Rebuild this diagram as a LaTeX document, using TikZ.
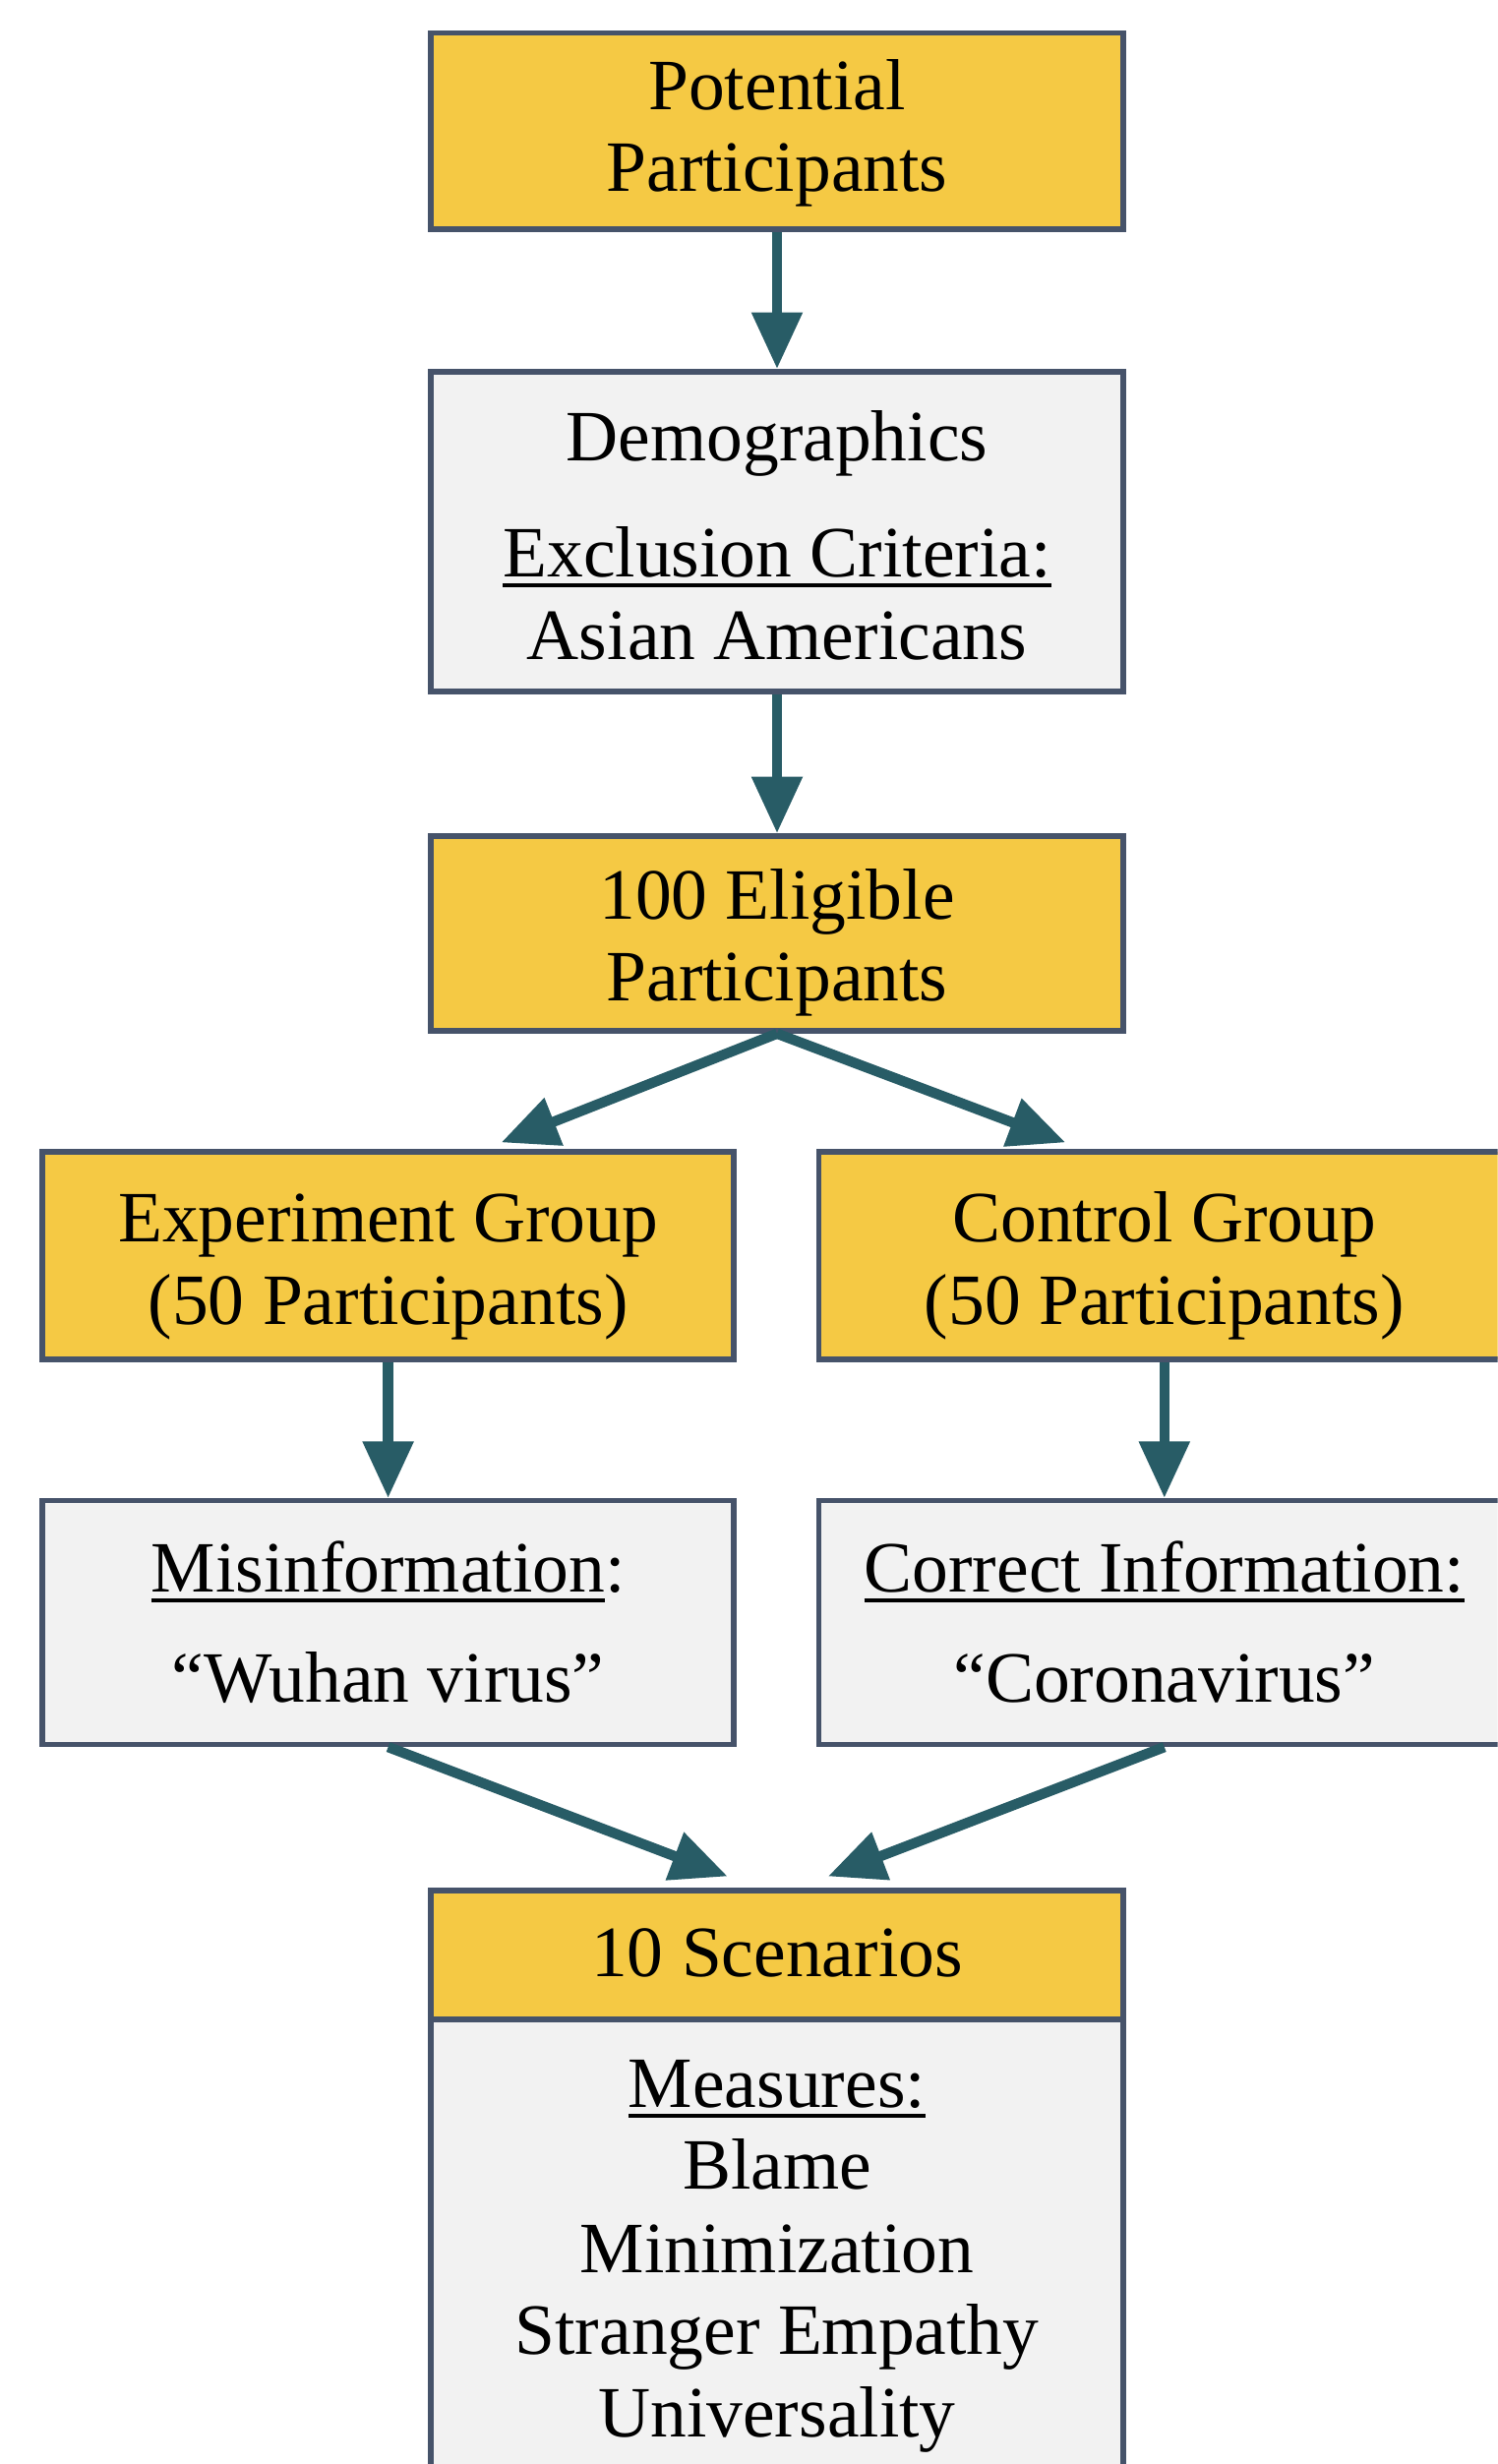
\documentclass[tikz,border=0pt]{standalone}
\usepackage{fontspec}
\setmainfont{Liberation Serif}
\usetikzlibrary{arrows.meta}
\definecolor{yel}{HTML}{F5C944}
\definecolor{gry}{HTML}{F2F2F2}
\definecolor{bord}{HTML}{46536A}
\definecolor{tealarr}{HTML}{285C66}
\newcommand\myul[1]{\setbox0\hbox{#1}\rlap{\rule[-6.5pt]{\wd0}{2.5pt}}\box0}
\begin{document}
\begin{tikzpicture}[x=1pt,y=-1pt,
  boxbase/.style={rectangle, draw=bord, line width=3.5pt, inner sep=0pt},
  ybox/.style={boxbase, fill=yel},
  gbox/.style={boxbase, fill=gry},
  txt/.style={anchor=base, inner sep=0pt, font=\fontsize{46}{53}\selectfont},
  arr/.style={draw=tealarr, line width=6.5pt, -{Triangle[length=36pt,width=31pt]}}]
\useasboundingbox (0,0) rectangle (953,1568);
\clip (0,0) rectangle (953,1568);
% boxes
\node[ybox, minimum width=441pt, minimum height=125pt] (p) at (494.5,83.5) {};
\node[gbox, minimum width=441pt, minimum height=203.5pt] (d) at (494.5,338.25) {};
\node[ybox, minimum width=441pt, minimum height=124pt] (e) at (494.5,594) {};
\node[ybox, minimum width=440pt, minimum height=132pt] (exg) at (247,799) {};
\node[ybox, minimum width=440pt, minimum height=132pt] (ctl) at (741,799) {};
\node[gbox, minimum width=440pt, minimum height=155pt] (mis) at (247,1032.5) {};
\node[gbox, minimum width=440pt, minimum height=155pt] (cor) at (741,1032.5) {};
\node[gbox, minimum width=441pt, minimum height=415pt] (ms) at (494.5,1492.5) {};
\node[ybox, minimum width=441pt, minimum height=82pt] (sc) at (494.5,1244) {};
% arrow tips
\coordinate (tl) at (319,727);
\coordinate (tr) at (678,727);
\coordinate (bl) at (463,1194);
\coordinate (br) at (527,1194);
% connectors
\draw[arr] (p.south) -- (d.north);
\draw[arr] (d.south) -- (e.north);
\draw[arr] (e.south) -- (tl);
\draw[arr] (e.south) -- (tr);
\draw[arr] (exg.south) -- (mis.north);
\draw[arr] (ctl.south) -- (cor.north);
\draw[arr] (mis.south) -- (bl);
\draw[arr] (cor.south) -- (br);
% texts
\node[txt] (t1) at (494.5,70) {Potential};
\node[txt] (t2) at (494.5,122) {Participants};
\node[txt] (t3) at (494.5,293) {Demographics};
\node[txt] (t4) at (494.5,367) {\myul{Exclusion Criteria:}};
\node[txt] (t5) at (494.5,420) {Asian Americans};
\node[txt] (t6) at (494.5,585) {100 Eligible};
\node[txt] (t7) at (494.5,637) {Participants};
\node[txt] (t8) at (247,790) {Experiment Group};
\node[txt] (t9) at (247,843) {(50 Participants)};
\node[txt] (t10) at (741,790) {Control Group};
\node[txt] (t11) at (741,843) {(50 Participants)};
\node[txt] (t12) at (247,1013) {\myul{Misinformation}:};
\node[txt] (t13) at (247,1083) {“Wuhan virus”};
\node[txt] (t14) at (741,1013) {\myul{Correct Information:}};
\node[txt] (t15) at (741,1083) {“Coronavirus”};
\node[txt] (t16) at (494.5,1258) {10 Scenarios};
\node[txt] (t17) at (494.5,1341) {\myul{Measures:}};
\node[txt] (t18) at (494.5,1393) {Blame};
\node[txt] (t19) at (494.5,1446) {Minimization};
\node[txt] (t20) at (494.5,1498) {Stranger Empathy};
\node[txt] (t21) at (494.5,1551) {Universality};
\end{tikzpicture}
\end{document}
